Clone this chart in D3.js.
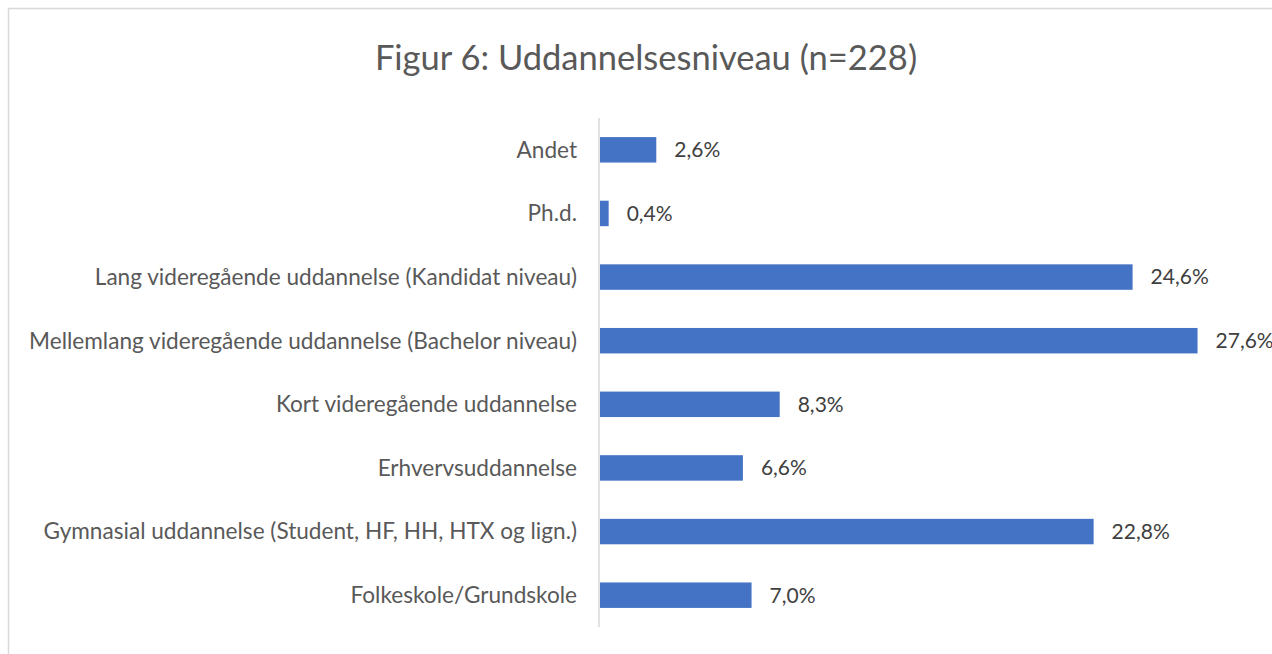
<!DOCTYPE html>
<html>
<head>
<meta charset="utf-8">
<script src="https://cdn.jsdelivr.net/npm/d3@7"></script>
<style>
  body { margin: 0; background: #fff; }
  svg text { font-family: Lato, "Open Sans", sans-serif; }
</style>
</head>
<body>
<svg id="chart" width="1272" height="654"></svg>
<script>
  // education levels, top to bottom as drawn
  var categories = [
    'Andet',
    'Ph.d.',
    'Lang videregående uddannelse (Kandidat niveau)',
    'Mellemlang videregående uddannelse (Bachelor niveau)',
    'Kort videregående uddannelse',
    'Erhvervsuddannelse',
    'Gymnasial uddannelse (Student, HF, HH, HTX og lign.)',
    'Folkeskole/Grundskole'
  ];
  var shares = [2.6, 0.4, 24.6, 27.6, 8.3, 6.6, 22.8, 7.0];
  var titleText = 'Figur 6: Uddannelsesniveau (n=228)';

  var svg = d3.select('#chart');
  var plot = { left: 599, top: 118, bottom: 627 };

  // chart area border (only left + top visible in the frame)
  svg.append('rect')
    .attr('x', 8.5).attr('y', 8.5)
    .attr('width', 1300).attr('height', 700)
    .attr('fill', '#fff')
    .attr('stroke', '#d9d9d9')
    .attr('stroke-width', 1.5);

  svg.append('text')
    .attr('x', 646).attr('y', 70)
    .attr('text-anchor', 'middle')
    .attr('font-size', 34.5)
    .attr('fill', '#595959')
    .text(titleText);

  var x = d3.scaleLinear()
    .domain([0, 1])
    .range([plot.left, plot.left + 21.65]);

  var y = d3.scaleBand()
    .domain(categories)
    .range([plot.top, plot.bottom])
    .paddingInner(0.6)
    .paddingOuter(0.3);

  var data = categories.map(function (c, i) {
    return { label: c, value: shares[i] };
  });

  svg.append('g')
    .selectAll('rect')
    .data(data)
    .enter()
    .append('rect')
      .attr('x', x(0) + 1)
      .attr('y', function (d) { return y(d.label); })
      .attr('width', function (d) { return x(d.value) - x(0); })
      .attr('height', y.bandwidth())
      .attr('fill', '#4472c4');

  // category labels
  svg.append('g')
    .selectAll('text')
    .data(data)
    .enter()
    .append('text')
      .attr('x', 577)
      .attr('y', function (d) { return y(d.label) + y.bandwidth() / 2; })
      .attr('dy', '0.35em')
      .attr('text-anchor', 'end')
      .attr('font-size', 22.6)
      .attr('fill', '#595959')
      .text(function (d) { return d.label; });

  // value labels
  svg.append('g')
    .selectAll('text')
    .data(data)
    .enter()
    .append('text')
      .attr('x', function (d) { return x(d.value) + 19; })
      .attr('y', function (d) { return y(d.label) + y.bandwidth() / 2; })
      .attr('dy', '0.35em')
      .attr('font-size', 21)
      .attr('fill', '#404040')
      .text(function (d) { return d3.format('.1f')(d.value).replace('.', ',') + '%'; });

  // vertical category axis line
  svg.append('line')
    .attr('x1', plot.left).attr('x2', plot.left)
    .attr('y1', plot.top).attr('y2', plot.bottom)
    .attr('stroke', '#d9d9d9')
    .attr('stroke-width', 1.5);
</script>
</body>
</html>
